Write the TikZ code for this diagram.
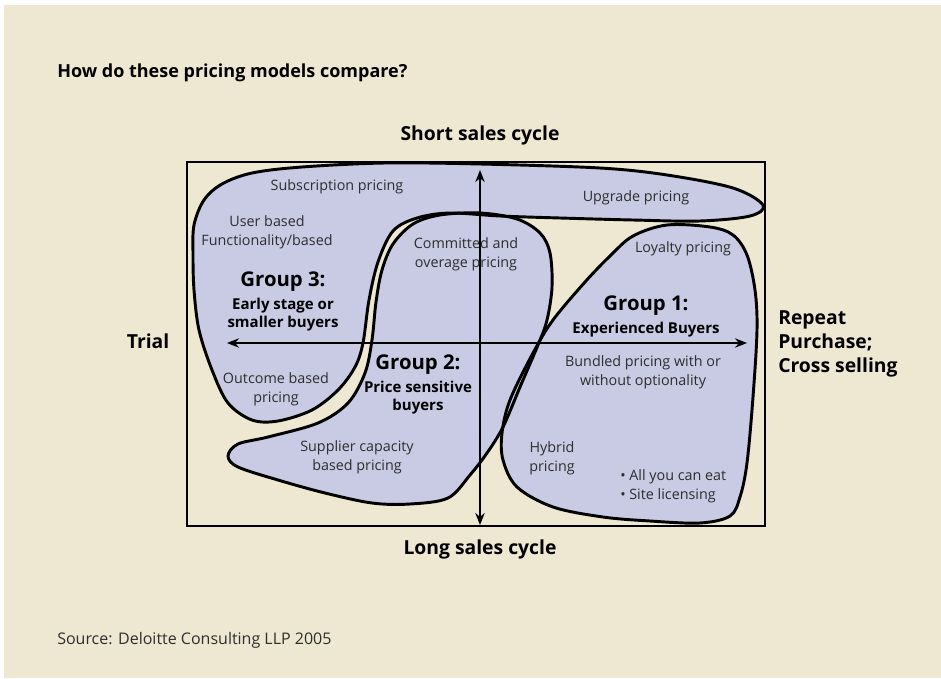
\documentclass[tikz,border=0pt]{standalone}
\usepackage{fontspec}
\setmainfont{Open Sans}
\usetikzlibrary{positioning, arrows.meta, calc}
\definecolor{bgbeige}{HTML}{EEE8D2}
\definecolor{blobfill}{HTML}{C9CAE3}
\definecolor{lbltext}{HTML}{2E2E2E}

\begin{document}
\begin{tikzpicture}[x=0.75pt, y=-0.75pt,
		lbl/.style={align=center, inner sep=0pt, text=lbltext, font=\fontsize{10.75}{14}\selectfont},
		grphead/.style={inner sep=0pt, font=\bfseries\fontsize{15.25}{18}\selectfont},
		grpsub/.style={align=center, inner sep=0pt, font=\bfseries\fontsize{11.25}{14}\selectfont},
		axislbl/.style={inner sep=0pt, font=\bfseries\fontsize{14.5}{18}\selectfont},
		blobline/.style={line width=2.2pt, line join=round},
		axisarrow/.style={{Stealth[length=9pt, width=7pt]}-{Stealth[length=9pt, width=7pt]}, line width=1.5pt}]
		% background
		\useasboundingbox (0,0) rectangle (941,678);
		\fill[white] (0,0) rectangle (941,678);
		\fill[bgbeige] (4,5) rectangle (941,678);
		% blobs - outlines saved so that they can be drawn over all fills
		\path[save path=\grpthree] plot[smooth cycle, tension=0.55] coordinates {
			(194,225) (204,200) (222,184) (252,173) (302,167) (385,163) (480,164) (600,168)
			(667,175) (733,188) (763,205) (750,216) (700,221) (633,220) (560,218) (500,216)
			(450,213) (417,218) (393,231) (378,262) (369,300) (363,343) (355,367) (338,390)
			(312,410) (278,421) (252,420) (228,403) (212,370) (199,330) (194,290) (193,255)};
		\path[save path=\grptwo] plot[smooth cycle, tension=0.55] coordinates {
			(440,215) (480,213) (517,219) (540,233) (550,253) (552,287) (547,320) (538,345)
			(520,387) (503,427) (487,453) (470,475) (448,498) (410,504) (372,503) (325,493)
			(278,480) (238,467) (228,456) (238,444) (268,437) (318,423) (348,403) (365,373)
			(372,340) (376,302) (382,270) (393,244) (413,224)};
		\path[save path=\grpone] plot[smooth cycle, tension=0.55] coordinates {
			(633,236) (667,225) (710,227) (733,235) (747,255) (755,290) (757,330) (753,397)
			(747,463) (740,497) (730,516) (700,523) (650,521) (603,517) (553,507) (517,487)
			(503,460) (502,433) (510,400) (533,353) (553,320) (585,282) (610,256)};
		\fill[blobfill, use path=\grpthree];
		\fill[blobfill, use path=\grptwo];
		\fill[blobfill, use path=\grpone];
		\draw[blobline, use path=\grpthree];
		\draw[blobline, use path=\grptwo];
		\draw[blobline, use path=\grpone];
		% frame and axes
		\draw[line width=1.5pt] (187,162) rectangle (765,526);
		\coordinate (vtop) at (480,170);
		\coordinate (vbot) at (480,525);
		\coordinate (hleft) at (227,343);
		\coordinate (hright) at (747,343);
		\draw[axisarrow] (vtop) -- (vbot);
		\draw[axisarrow] (hleft) -- (hright);
		% title and source
		\node[anchor=west, inner sep=0pt, font=\bfseries\fontsize{13.5}{16}\selectfont] (title) at (57,73) {How do these pricing models compare?};
		\node[anchor=west, inner sep=0pt, text=lbltext, font=\fontsize{12}{14}\selectfont] (src) at (57,640) {Source: Deloitte Consulting LLP 2005};
		% axis labels
		\node[axislbl] (short) at (480,135) {Short sales cycle};
		\node[axislbl] (long) at (480,549) {Long sales cycle};
		\node[axislbl] (trial) at (148,341) {Trial};
		\node[axislbl, anchor=west, align=left] (repeat) at (778,344) {Repeat\\Purchase;\\Cross selling};
		% group 3
		\node[lbl] (subscr) at (337,187) {Subscription pricing};
		\node[lbl] (upgr) at (636,198) {Upgrade pricing};
		\node[lbl] (userb) at (267,232) {User based\\Functionality/based};
		\node[grphead] (g3) at (283,282) {Group 3:};
		\node[grpsub, below=4pt of g3] (g3sub) {Early stage or\\smaller buyers};
		\node[lbl] (outcome) at (276,389) {Outcome based\\pricing};
		% group 2
		\node[lbl] (commit) at (466,254) {Committed and\\overage pricing};
		\node[grphead] (g2) at (418,365) {Group 2:};
		\node[grpsub, below=4pt of g2] (g2sub) {Price sensitive\\buyers};
		\node[lbl] (supplier) at (357,457) {Supplier capacity\\based pricing};
		% group 1
		\node[lbl] (loyal) at (683,249) {Loyalty pricing};
		\node[grphead] (g1) at (646,306) {Group 1:};
		\node[grpsub, below=4pt of g1] (g1sub) {Experienced Buyers};
		\node[lbl] (bundled) at (643,372) {Bundled pricing with or\\without optionality};
		\node[lbl] (hybrid) at (552,458) {Hybrid\\pricing};
		\node[lbl, align=left, anchor=west] (eat) at (620,486) {\textbullet\ All you can eat\\\textbullet\ Site licensing};
\end{tikzpicture}
\end{document}
